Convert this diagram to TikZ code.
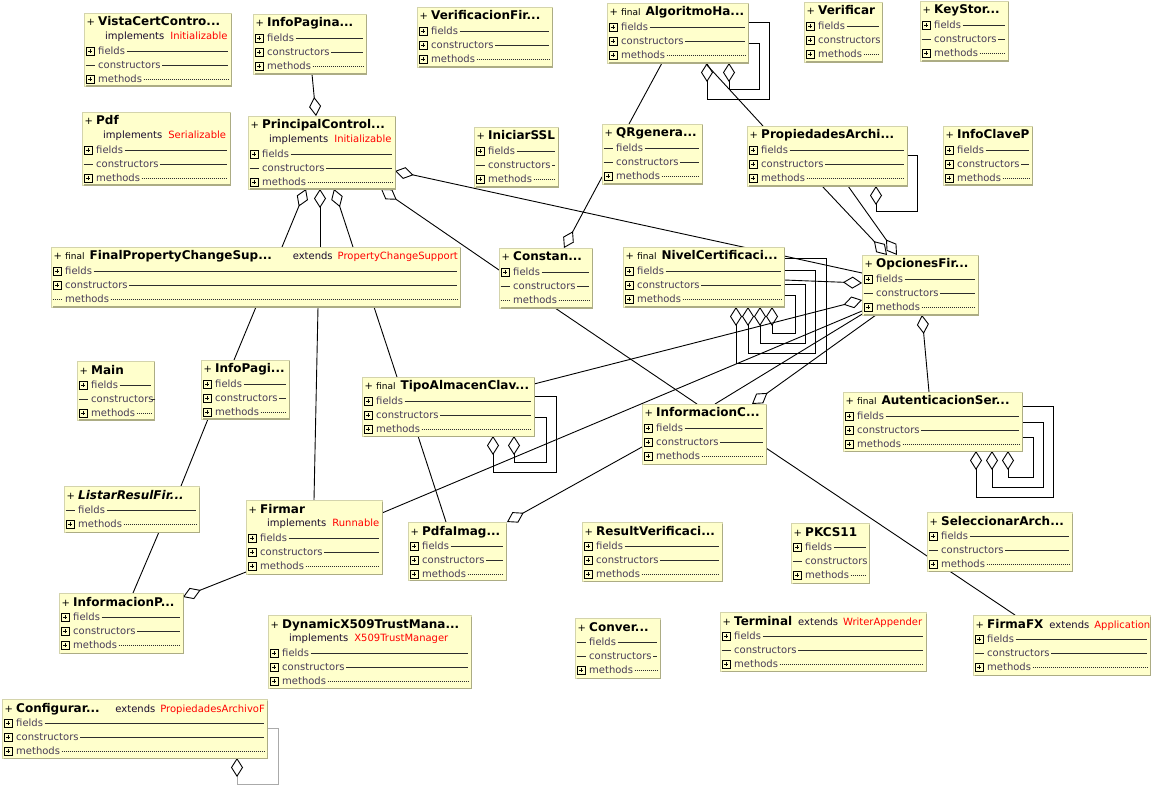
\documentclass[tikz,border=0pt]{standalone}
\usepackage{fontspec}
\setmainfont{DejaVu Sans}
\usetikzlibrary{arrows.meta,calc}
\pgfdeclarelayer{bgl}
\pgfdeclarelayer{lines}
\pgfsetlayers{bgl,lines,main}

\definecolor{boxfill}{RGB}{255,255,204}
\definecolor{boxedge}{RGB}{212,212,172}
\definecolor{boxshadow}{RGB}{172,172,132}
\definecolor{rowtxt}{RGB}{72,60,88}
\definecolor{rowline}{RGB}{45,45,45}
\definecolor{redtxt}{RGB}{255,0,0}
\definecolor{imptxt}{RGB}{25,10,45}
\definecolor{loopgray}{RGB}{170,170,170}

\newcommand\finalfont{\mdseries\fontsize{9}{11}\selectfont}
\newcommand\extfont{\mdseries\fontsize{10}{12}\selectfont\color{imptxt}}

\tikzset{
  classbox/.style={draw=boxedge, fill=boxfill, line width=0.7pt, inner sep=0pt, outer sep=0pt, anchor=north west},
  shadowline/.style={draw=boxshadow, line width=1.4pt},
  rowlabel/.style={font=\fontsize{10}{12}\selectfont, text=rowtxt, inner xsep=1.5pt, inner ysep=0pt, text height=7.2pt, text depth=0pt, anchor=west},
  impltext/.style={rowlabel, text=imptxt},
  titletext/.style={font=\fontsize{12}{14}\selectfont\bfseries, text=black, inner sep=0pt, text height=9pt, text depth=0pt, anchor=west},
  plustext/.style={font=\fontsize{10}{12}\selectfont, text=black, inner sep=0pt, text height=9pt, text depth=0pt, anchor=west},
  exttext/.style={font=\fontsize{10}{12}\selectfont, text=imptxt, inner sep=0pt, text height=9pt, text depth=0pt},
  iconline/.style={draw=black, line width=0.6pt},
  rowsolid/.style={draw=rowline, line width=0.8pt},
  rowdot/.style={draw=rowline, line width=0.8pt, dash pattern=on 0.7pt off 1.3pt},
  conn/.style={draw=black, line width=0.9pt},
  agg/.style={-{Diamond[length=19pt,width=12pt,fill=white]}},
}

% class box: id, left, top, right, bottom, title
\newcommand\Cls[6]{%
  \expandafter\xdef\csname cL#1\endcsname{#2}%
  \expandafter\xdef\csname cT#1\endcsname{#3}%
  \expandafter\xdef\csname cR#1\endcsname{#4}%
  \node[classbox, minimum width=#4pt-#2pt, minimum height=#5pt-#3pt] (#1) at (#2,#3) {};
  \draw[shadowline] (#4+0.2,#3+1.5) -- (#4+0.2,#5+0.2) -- (#2+1.5,#5+0.2);
  \node[plustext] (#1-p) at (#2+2.5,#3+8.5) {+};
  \node[titletext] (#1-t) at (#2+14,#3+8.5) {#6};
}
\newcommand\Icp{\draw[iconline] (\rL+2,\rY-4) rectangle (\rL+10,\rY+4) (\rL+3.8,\rY) -- (\rL+8.2,\rY) (\rL+6,\rY-2.2) -- (\rL+6,\rY+2.2);}
\newcommand\Icd{\draw[rowsolid] (\rL+1.5,\rY) -- (\rL+10.5,\rY);}
\newcommand\Ico{\draw[rowdot] (\rL+1.5,\rY) -- (\rL+10.5,\rY);}
\newcommand\Lns[1]{\draw[rowsolid] (#1.east) -- (\rR-3,\rY);}
\newcommand\Lno[1]{\draw[rowdot] (#1.east) -- (\rR-3,\rY);}
\newcommand\Lnn[1]{}
% row: id, y offset, icon (p/d/o), label, trailing line (s/o/n)
\newcommand\Row[5]{%
  \edef\rL{\csname cL#1\endcsname}\edef\rT{\csname cT#1\endcsname}\edef\rR{\csname cR#1\endcsname}%
  \pgfmathsetmacro\rY{\rT+#2}%
  \csname Ic#3\endcsname
  \node[rowlabel] (#1-r#2) at (\rL+12.5,\rY) {#4};
  \csname Ln#5\endcsname{#1-r#2}%
}
\newcommand\Three[4]{% id, icons for fields/constructors/methods (with base offset #4)
  \Row{#1}{#4}{#2}{fields}{s}%
  \pgfmathtruncatemacro\rB{#4+14}%
  \Row{#1}{\rB}{#3}{constructors}{s}%
}
\newcommand\Impl[2]{%
  \edef\rL{\csname cL#1\endcsname}\edef\rT{\csname cT#1\endcsname}%
  \node[impltext] (#1-i) at (\rL+19.5,\rT+23) {implements\hspace{6pt}\textcolor{redtxt}{#2}};}
\newcommand\ExtR[2]{%
  \edef\rR{\csname cR#1\endcsname}\edef\rT{\csname cT#1\endcsname}%
  \node[exttext, anchor=east] (#1-e) at (\rR-2,\rT+8.5) {extends\hspace{5pt}\textcolor{redtxt}{#2}};}
\newcommand\Pt[3]{($(#1.north west)+(#2-\csname cL#1\endcsname,#3-\csname cT#1\endcsname)$)}

\begin{document}
\begin{tikzpicture}[x=1pt,y=-1pt]
\useasboundingbox (0,0) rectangle (1152,794);
\begin{pgfonlayer}{bgl}
\fill[white] (0,0) rectangle (1152,794);
\end{pgfonlayer}

% ---------------- classes ----------------
\Cls{VC}{84}{13}{231}{86}{VistaCertContro...}
\Impl{VC}{Initializable}
\Row{VC}{38}{p}{fields}{s}\Row{VC}{52}{d}{constructors}{s}\Row{VC}{66}{p}{methods}{o}

\Cls{IPa}{253}{14}{366}{74}{InfoPagina...}
\Row{IPa}{24}{p}{fields}{s}\Row{IPa}{38}{p}{constructors}{s}\Row{IPa}{52}{p}{methods}{o}

\Cls{PDF}{82}{112}{230}{185}{Pdf}
\Impl{PDF}{Serializable}
\Row{PDF}{38}{p}{fields}{s}\Row{PDF}{52}{d}{constructors}{s}\Row{PDF}{66}{p}{methods}{o}

\Cls{PC}{248}{116}{395}{189}{PrincipalControl...}
\Impl{PC}{Initializable}
\Row{PC}{38}{p}{fields}{s}\Row{PC}{52}{d}{constructors}{s}\Row{PC}{66}{p}{methods}{o}

\Cls{VF}{417}{7}{552}{67}{VerificacionFir...}
\Row{VF}{24}{p}{fields}{s}\Row{VF}{38}{p}{constructors}{s}\Row{VF}{52}{p}{methods}{o}

\Cls{AH}{607}{3}{748}{63}{{\finalfont final}\hspace{5pt}AlgoritmoHa...}
\Row{AH}{24}{p}{fields}{s}\Row{AH}{38}{p}{constructors}{s}\Row{AH}{52}{p}{methods}{o}

\Cls{SSL}{474}{127}{558}{187}{IniciarSSL}
\Row{SSL}{24}{p}{fields}{s}\Row{SSL}{38}{d}{constructors}{s}\Row{SSL}{52}{p}{methods}{o}

\Cls{QR}{602}{124}{702}{184}{QRgenera...}
\Row{QR}{24}{d}{fields}{s}\Row{QR}{38}{d}{constructors}{s}\Row{QR}{52}{p}{methods}{o}

\Cls{PA}{747}{126}{907}{186}{PropiedadesArchi...}
\Row{PA}{24}{p}{fields}{s}\Row{PA}{38}{p}{constructors}{s}\Row{PA}{52}{p}{methods}{o}

\Cls{VER}{804}{2}{882}{62}{Verificar}
\Row{VER}{24}{p}{fields}{s}\Row{VER}{38}{p}{constructors}{n}\Row{VER}{52}{p}{methods}{o}

\Cls{KS}{920}{1}{1008}{61}{KeyStor...}
\Row{KS}{24}{p}{fields}{s}\Row{KS}{38}{d}{constructors}{s}\Row{KS}{52}{p}{methods}{o}

\Cls{ICP}{943}{126}{1032}{185}{InfoClaveP}
\Row{ICP}{24}{p}{fields}{s}\Row{ICP}{38}{p}{constructors}{s}\Row{ICP}{52}{p}{methods}{o}

\Cls{FP}{51}{247}{460}{307}{{\finalfont final}\hspace{5pt}FinalPropertyChangeSup...}
\ExtR{FP}{PropertyChangeSupport}
\Row{FP}{24}{p}{fields}{s}\Row{FP}{38}{p}{constructors}{s}\Row{FP}{52}{o}{methods}{o}

\Cls{CON}{499}{248}{592}{308}{Constan...}
\Row{CON}{24}{p}{fields}{s}\Row{CON}{38}{d}{constructors}{s}\Row{CON}{52}{o}{methods}{o}

\Cls{NC}{623}{247}{784}{307}{{\finalfont final}\hspace{5pt}NivelCertificaci...}
\Row{NC}{24}{p}{fields}{s}\Row{NC}{38}{p}{constructors}{s}\Row{NC}{52}{p}{methods}{o}

\Cls{OF}{862}{255}{978}{315}{OpcionesFir...}
\Row{OF}{24}{p}{fields}{s}\Row{OF}{38}{d}{constructors}{s}\Row{OF}{52}{p}{methods}{o}

\Cls{MAIN}{77}{361}{154}{420}{Main}
\Row{MAIN}{24}{p}{fields}{s}\Row{MAIN}{38}{d}{constructors}{s}\Row{MAIN}{52}{p}{methods}{o}

\Cls{IPb}{201}{360}{289}{419}{InfoPagi...}
\Row{IPb}{24}{p}{fields}{s}\Row{IPb}{38}{p}{constructors}{s}\Row{IPb}{52}{p}{methods}{o}

\Cls{TA}{362}{377}{534}{436}{{\finalfont final}\hspace{5pt}TipoAlmacenClav...}
\Row{TA}{24}{p}{fields}{s}\Row{TA}{38}{p}{constructors}{s}\Row{TA}{52}{p}{methods}{o}

\Cls{IC}{642}{404}{766}{464}{InformacionC...}
\Row{IC}{24}{p}{fields}{s}\Row{IC}{38}{p}{constructors}{s}\Row{IC}{52}{p}{methods}{o}

\Cls{AS}{843}{392}{1022}{451}{{\finalfont final}\hspace{5pt}AutenticacionSer...}
\Row{AS}{24}{p}{fields}{s}\Row{AS}{38}{p}{constructors}{s}\Row{AS}{52}{p}{methods}{o}

\Cls{LR}{64}{486}{199}{532}{\itshape ListarResulFir...}
\Row{LR}{24}{d}{fields}{s}\Row{LR}{38}{p}{methods}{o}

\Cls{FIR}{246}{500}{382}{574}{Firmar}
\Impl{FIR}{Runnable}
\Row{FIR}{38}{p}{fields}{s}\Row{FIR}{52}{p}{constructors}{s}\Row{FIR}{66}{p}{methods}{o}

\Cls{PI}{408}{522}{506}{580}{PdfaImag...}
\Row{PI}{24}{p}{fields}{s}\Row{PI}{38}{p}{constructors}{s}\Row{PI}{52}{p}{methods}{o}

\Cls{RV}{582}{522}{722}{581}{ResultVerificaci...}
\Row{RV}{24}{p}{fields}{s}\Row{RV}{38}{p}{constructors}{s}\Row{RV}{52}{p}{methods}{o}

\Cls{PK}{791}{523}{869}{583}{PKCS11}
\Row{PK}{24}{p}{fields}{s}\Row{PK}{38}{d}{constructors}{n}\Row{PK}{52}{p}{methods}{o}

\Cls{SA}{927}{512}{1072}{571}{SeleccionarArch...}
\Row{SA}{24}{p}{fields}{s}\Row{SA}{38}{d}{constructors}{s}\Row{SA}{52}{p}{methods}{o}

\Cls{INP}{59}{593}{183}{653}{InformacionP...}
\Row{INP}{24}{p}{fields}{s}\Row{INP}{38}{p}{constructors}{s}\Row{INP}{52}{p}{methods}{o}

\Cls{DX}{268}{615}{471}{688}{DynamicX509TrustMana...}
\Impl{DX}{X509TrustManager}
\Row{DX}{38}{p}{fields}{s}\Row{DX}{52}{p}{constructors}{s}\Row{DX}{66}{p}{methods}{o}

\Cls{CV}{575}{618}{660}{678}{Conver...}
\Row{CV}{24}{d}{fields}{s}\Row{CV}{38}{d}{constructors}{s}\Row{CV}{52}{p}{methods}{o}

\Cls{TER}{720}{612}{926}{671}{Terminal\hspace{6pt}{\extfont extends\hspace{5pt}\textcolor{redtxt}{WriterAppender}}}
\Row{TER}{24}{p}{fields}{s}\Row{TER}{38}{d}{constructors}{s}\Row{TER}{52}{p}{methods}{o}

\Cls{FFX}{973}{615}{1150}{675}{FirmaFX\hspace{6pt}{\extfont extends\hspace{5pt}\textcolor{redtxt}{Application}}}
\Row{FFX}{24}{p}{fields}{s}\Row{FFX}{38}{d}{constructors}{s}\Row{FFX}{52}{p}{methods}{o}

\Cls{CFG}{2}{699}{267}{758}{Configurar...}
\ExtR{CFG}{PropiedadesArchivoF}
\Row{CFG}{24}{p}{fields}{s}\Row{CFG}{38}{p}{constructors}{s}\Row{CFG}{52}{p}{methods}{o}

% ---------------- connectors ----------------
\begin{pgfonlayer}{lines}
\draw[conn,agg] \Pt{IPa}{312}{74} -- \Pt{PC}{316}{116};
% AlgoritmoHa
\draw[conn,agg] \Pt{AH}{748}{22} -- \Pt{AH}{769}{22} -- \Pt{AH}{769}{99} -- \Pt{AH}{707}{99} -- \Pt{AH}{707}{63};
\draw[conn,agg] \Pt{AH}{748}{43} -- \Pt{AH}{759}{43} -- \Pt{AH}{759}{89} -- \Pt{AH}{729}{89} -- \Pt{AH}{729}{63};
\draw[conn] \Pt{AH}{662}{63} -- \Pt{QR}{629}{124};
\draw[conn] \Pt{AH}{706}{64} -- \Pt{PA}{763}{126};
% PrincipalControl
\draw[conn,agg] \Pt{OF}{862}{273} -- \Pt{PC}{395}{171};
\draw[conn,agg] \Pt{CON}{499}{270} -- \Pt{PC}{381}{189};
\draw[conn,agg] \Pt{FP}{282}{247} -- \Pt{PC}{306}{189};
\draw[conn,agg] \Pt{FP}{320}{247} -- \Pt{PC}{320}{189};
\draw[conn,agg] \Pt{FP}{353}{247} -- \Pt{PC}{334}{189};
% QR -> Constan
\draw[conn,agg] \Pt{QR}{602}{177} -- \Pt{CON}{564}{248};
% PropiedadesArchi
\draw[conn,agg] \Pt{PA}{822}{186} -- \Pt{OF}{887}{255};
\draw[conn,agg] \Pt{PA}{848}{186} -- \Pt{OF}{897}{255};
\draw[conn,agg] \Pt{PA}{907}{155} -- \Pt{PA}{917}{155} -- \Pt{PA}{917}{211} -- \Pt{PA}{876}{211} -- \Pt{PA}{876}{186};
% NivelCertificacion
\draw[conn,agg] \Pt{NC}{784}{280} -- \Pt{OF}{862}{283};
\draw[conn,agg] \Pt{NC}{784}{258} -- \Pt{NC}{826}{258} -- \Pt{NC}{826}{363} -- \Pt{NC}{736}{363} -- \Pt{NC}{736}{307};
\draw[conn,agg] \Pt{NC}{784}{270} -- \Pt{NC}{815}{270} -- \Pt{NC}{815}{353} -- \Pt{NC}{748}{353} -- \Pt{NC}{748}{307};
\draw[conn,agg] \Pt{NC}{784}{284} -- \Pt{NC}{805}{284} -- \Pt{NC}{805}{343} -- \Pt{NC}{760}{343} -- \Pt{NC}{760}{307};
\draw[conn,agg] \Pt{NC}{784}{295} -- \Pt{NC}{795}{295} -- \Pt{NC}{795}{333} -- \Pt{NC}{772}{333} -- \Pt{NC}{772}{307};
% Constan -> InformacionC
\draw[conn] \Pt{CON}{555}{308} -- \Pt{IC}{697}{404};
% FinalPropertyChangeSupport
\draw[conn] \Pt{FP}{256}{307} -- \Pt{IPb}{234}{360};
\draw[conn] \Pt{FP}{318}{307} -- \Pt{FIR}{314}{500};
\draw[conn] \Pt{FP}{374}{307} -- \Pt{TA}{397}{377};
% TipoAlmacenClave
\draw[conn,agg] \Pt{TA}{534}{384} -- \Pt{OF}{862}{300};
\draw[conn,agg] \Pt{TA}{534}{396} -- \Pt{TA}{556}{396} -- \Pt{TA}{556}{472} -- \Pt{TA}{493}{472} -- \Pt{TA}{493}{436};
\draw[conn,agg] \Pt{TA}{534}{417} -- \Pt{TA}{546}{417} -- \Pt{TA}{546}{462} -- \Pt{TA}{514}{462} -- \Pt{TA}{514}{436};
\draw[conn] \Pt{TA}{418}{436} -- \Pt{PI}{446}{522};
% Firmar, InformacionC, OpcionesFirma
\draw[conn] \Pt{FIR}{382}{513} -- \Pt{OF}{862}{311};
\draw[conn] \Pt{IC}{715}{404} -- \Pt{OF}{864}{313};
\draw[conn,agg] \Pt{OF}{876}{315} -- \Pt{IC}{752}{404};
\draw[conn,agg] \Pt{AS}{929}{392} -- \Pt{OF}{922}{315};
% AutenticacionServidor
\draw[conn,agg] \Pt{AS}{1022}{406} -- \Pt{AS}{1053}{406} -- \Pt{AS}{1053}{497} -- \Pt{AS}{976}{497} -- \Pt{AS}{976}{451};
\draw[conn,agg] \Pt{AS}{1022}{422} -- \Pt{AS}{1043}{422} -- \Pt{AS}{1043}{487} -- \Pt{AS}{992}{487} -- \Pt{AS}{992}{451};
\draw[conn,agg] \Pt{AS}{1022}{437} -- \Pt{AS}{1033}{437} -- \Pt{AS}{1033}{477} -- \Pt{AS}{1008}{477} -- \Pt{AS}{1008}{451};
% InformacionC
\draw[conn,agg] \Pt{IC}{642}{447} -- \Pt{PI}{507}{522};
\draw[conn] \Pt{IC}{766}{448} -- \Pt{FFX}{1015}{615};
% left column
\draw[conn] \Pt{IPb}{208}{419} -- \Pt{LR}{181}{486};
\draw[conn] \Pt{LR}{159}{532} -- \Pt{INP}{133}{593};
\draw[conn,agg] \Pt{FIR}{246}{572} -- \Pt{INP}{183}{597};
% Configurar self loop (grey)
\draw[draw=loopgray, line width=0.9pt, -{Diamond[length=19pt,width=12pt,fill=white,color=black]}] \Pt{CFG}{267}{728} -- \Pt{CFG}{278}{728} -- \Pt{CFG}{278}{784} -- \Pt{CFG}{237}{784} -- \Pt{CFG}{237}{758};
\end{pgfonlayer}
\end{tikzpicture}
\end{document}
